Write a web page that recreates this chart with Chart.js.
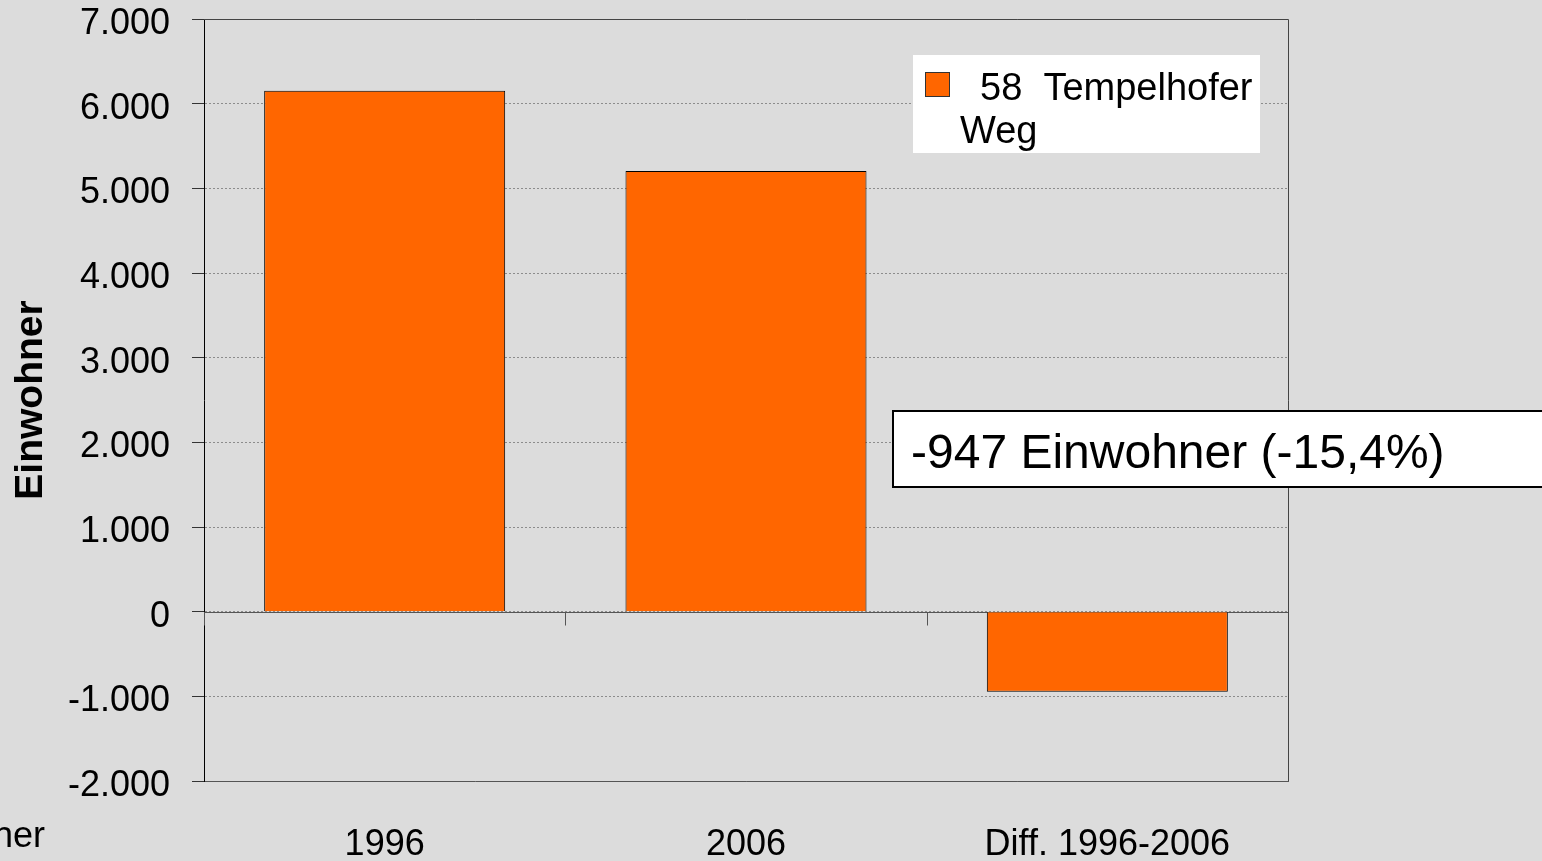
<!DOCTYPE html>
<html>
<head>
<meta charset="utf-8">
<script src="https://cdn.jsdelivr.net/npm/chart.js@4/dist/chart.umd.min.js"></script>
<style>
  html, body { margin: 0; padding: 0; background: #dcdcdc; overflow: hidden; }
  #wrap { width: 1542px; height: 861px; position: relative; }
</style>
</head>
<body>
<div id="wrap"><canvas id="chart"></canvas></div>
<script>
// data
const categories = ['1996', '2006', 'Diff. 1996-2006'];
const residents = [6153, 5206, -947];
const legendLines = ['58  Tempelhofer', 'Weg'];
const seriesLabel = legendLines.join(' ');
const yTicks = [-2000, -1000, 0, 1000, 2000, 3000, 4000, 5000, 6000, 7000];
const noteText = '-947 Einwohner (-15,4%)';

const FONT = "'Liberation Sans', Arial, sans-serif";
const ORANGE = '#ff6600';

function fmtDe(v) {
    const s = Math.abs(v).toString().replace(/\B(?=(\d{3})+(?!\d))/g, '.');
    return (v < 0 ? '-' : '') + s;
}

// zero line, category tick marks, frame, legend and note box
const extras = {
    id: 'extras',
    beforeDatasetsDraw(chart) {
        const { ctx, chartArea: a, scales: { x, y } } = chart;
        const y0 = Math.round(y.getPixelForValue(0)) + 0.5;
        ctx.save();
        ctx.strokeStyle = '#555';
        ctx.lineWidth = 1;
        ctx.beginPath();
        ctx.moveTo(a.left, y0);
        ctx.lineTo(a.right, y0);
        // category boundary ticks hanging below the zero line
        for (let i = 0; i <= categories.length; i++) {
            let px;
            if (i === 0) px = a.left;
            else if (i === categories.length) px = a.right;
            else px = (x.getPixelForValue(i - 1) + x.getPixelForValue(i)) / 2;
            px = Math.round(px) + 0.5;
            ctx.moveTo(px, y0);
            ctx.lineTo(px, y0 + 13);
        }
        ctx.stroke();
        // top + right frame
        ctx.strokeStyle = '#444';
        ctx.beginPath();
        ctx.moveTo(a.left, Math.round(a.top) + 0.5);
        ctx.lineTo(Math.round(a.right) + 0.5, Math.round(a.top) + 0.5);
        ctx.lineTo(Math.round(a.right) + 0.5, a.bottom);
        ctx.stroke();
        ctx.restore();
    },
    afterDraw(chart) {
        const { ctx } = chart;
        ctx.save();
        // legend
        ctx.fillStyle = '#fff';
        ctx.fillRect(913, 55, 347, 98);
        ctx.fillStyle = ORANGE;
        ctx.fillRect(925, 72, 25, 25);
        ctx.strokeStyle = '#333';
        ctx.lineWidth = 1;
        ctx.strokeRect(925.5, 72.5, 24, 24);
        ctx.fillStyle = '#000';
        ctx.font = '38px ' + FONT;
        ctx.textBaseline = 'alphabetic';
        ctx.fillText(legendLines[0], 980, 100);
        ctx.fillText(legendLines[1], 960, 143);
        // note box
        ctx.fillStyle = '#fff';
        ctx.fillRect(892, 410, 700, 78);
        ctx.strokeStyle = '#000';
        ctx.lineWidth = 2;
        ctx.strokeRect(893, 411, 700, 76);
        ctx.fillStyle = '#000';
        ctx.font = '48px ' + FONT;
        ctx.fillText(noteText, 911, 468);
        // clipped axis title remnant at bottom left
        ctx.font = '36px ' + FONT;
        ctx.textAlign = 'right';
        ctx.fillText('Einwohner', 45, 847);
        ctx.restore();
    }
};

new Chart(document.getElementById('chart'), {
    type: 'bar',
    data: {
        labels: categories,
        datasets: [{
            label: seriesLabel,
            data: residents,
            backgroundColor: ORANGE,
            borderColor: '#000',
            borderWidth: 1,
            categoryPercentage: 1,
            barPercentage: 0.667
        }]
    },
    options: {
        responsive: true,
        maintainAspectRatio: false,
        animation: false,
        layout: { padding: { left: 0, top: 19, right: 254, bottom: 0 } },
        plugins: {
            legend: { display: false },
            tooltip: { enabled: false }
        },
        scales: {
            x: {
                afterFit: s => { s.height = 80; s.paddingLeft = 0; s.paddingRight = 0; },
                grid: { display: false, drawTicks: false },
                border: { display: true, color: '#555', width: 1 },
                ticks: {
                    color: '#000',
                    padding: 46,
                    maxRotation: 0,
                    font: { family: FONT, size: 36, lineHeight: 1 }
                }
            },
            y: {
                min: -2000,
                max: 7000,
                afterFit: s => { s.width = 204; s.paddingTop = 0; s.paddingBottom = 0; },
                afterBuildTicks: s => { s.ticks = yTicks.map(v => ({ value: v })); },
                border: { display: true, color: '#000', width: 1, dash: [2, 2] },
                grid: {
                    color: '#8c8c8c',
                    lineWidth: 1,
                    tickLength: 12,
                    tickColor: '#333',
                    tickWidth: 1,
                    tickBorderDash: []
                },
                ticks: {
                    color: '#000',
                    padding: 22,
                    labelOffset: 5,
                    callback: v => fmtDe(v),
                    font: { family: FONT, size: 36, lineHeight: 1 }
                },
                title: {
                    display: true,
                    text: 'Einwohner',
                    color: '#000',
                    padding: { top: 8, bottom: 0 },
                    font: { family: FONT, size: 39, weight: 'bold' }
                }
            }
        }
    },
    plugins: [extras]
});
</script>
</body>
</html>
